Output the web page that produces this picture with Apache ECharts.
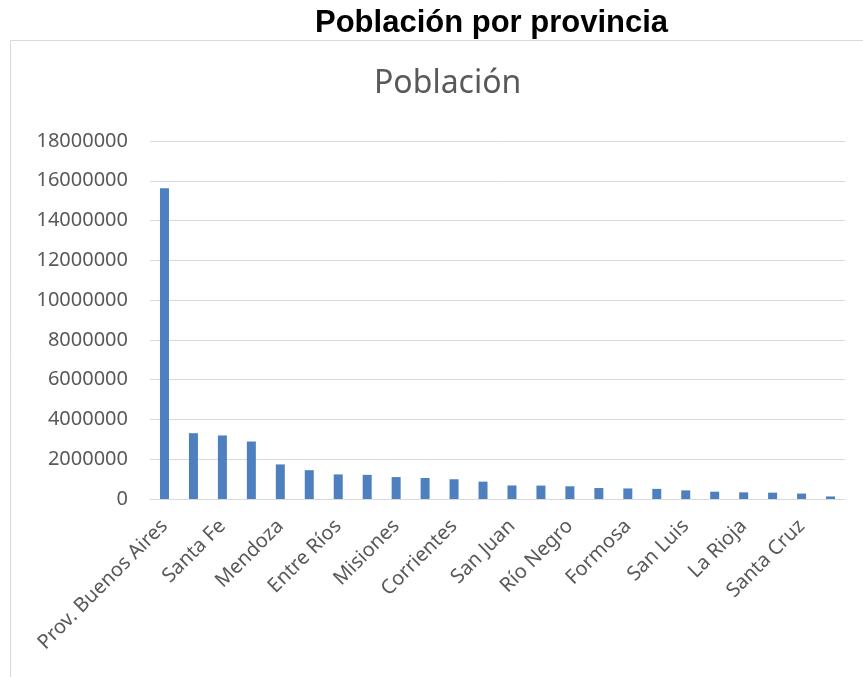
<!DOCTYPE html>
<html>
<head>
<meta charset="utf-8">
<script src="https://cdn.jsdelivr.net/npm/echarts@6/dist/echarts.min.js"></script>
<style>html,body{margin:0;padding:0;background:#fff;}#c{width:863px;height:677px;}</style>
</head>
<body>
<div id="c"></div>
<script>
const provincias = ["Prov. Buenos Aires","Córdoba","Santa Fe","CABA","Mendoza","Tucumán","Entre Ríos","Salta","Misiones","Chaco","Corrientes","Santiago del Estero","San Juan","Jujuy","Río Negro","Neuquén","Formosa","Chubut","San Luis","Catamarca","La Rioja","La Pampa","Santa Cruz","Tierra del Fuego"];
const poblacion = [15625084,3308876,3194537,2890151,1738929,1448188,1235994,1214441,1101593,1055259,992595,874006,681055,673307,638645,551266,530162,509108,432310,367828,333642,318951,273964,127205];
const yTicks = [0,2000000,4000000,6000000,8000000,10000000,12000000,14000000,16000000,18000000];

const chart = echarts.init(document.getElementById('c'));
chart.setOption({
  animation: false,
  graphic: [{type:'rect', shape:{x:10.5,y:40.5,width:900,height:700}, style:{fill:'none', stroke:'#d9d9d9', lineWidth:1}}],
  title: [
    {text:'Población por provincia', left:310, top:3, textStyle:{fontFamily:'Liberation Sans, Arial', fontWeight:'bold', fontSize:31, color:'#000'}},
    {text:'Población', left:369, top:63, textStyle:{fontFamily:'Noto Sans', fontWeight:'normal', fontSize:32, color:'#595959'}}
  ],
  grid: {left:150, right:18, top:141, bottom:178},
  xAxis: {
    type:'category', data:provincias,
    axisLine:{lineStyle:{color:'#d9d9d9'}}, axisTick:{show:false},
    axisLabel:{interval:1, rotate:45, margin:24, color:'#595959', fontSize:20, fontFamily:'Noto Sans'}
  },
  yAxis: {
    type:'value', min:yTicks[0], max:yTicks[yTicks.length-1], interval:2000000,
    axisLine:{show:false}, axisTick:{show:false},
    splitLine:{lineStyle:{color:'#d9d9d9'}},
    axisLabel:{margin:22, color:'#595959', fontSize:20, fontFamily:'Noto Sans', formatter: v => String(v)}
  },
  series: [{type:'bar', data:poblacion, barWidth:9, itemStyle:{color:'#4e7fbf'}}]
});
</script>
</body>
</html>
